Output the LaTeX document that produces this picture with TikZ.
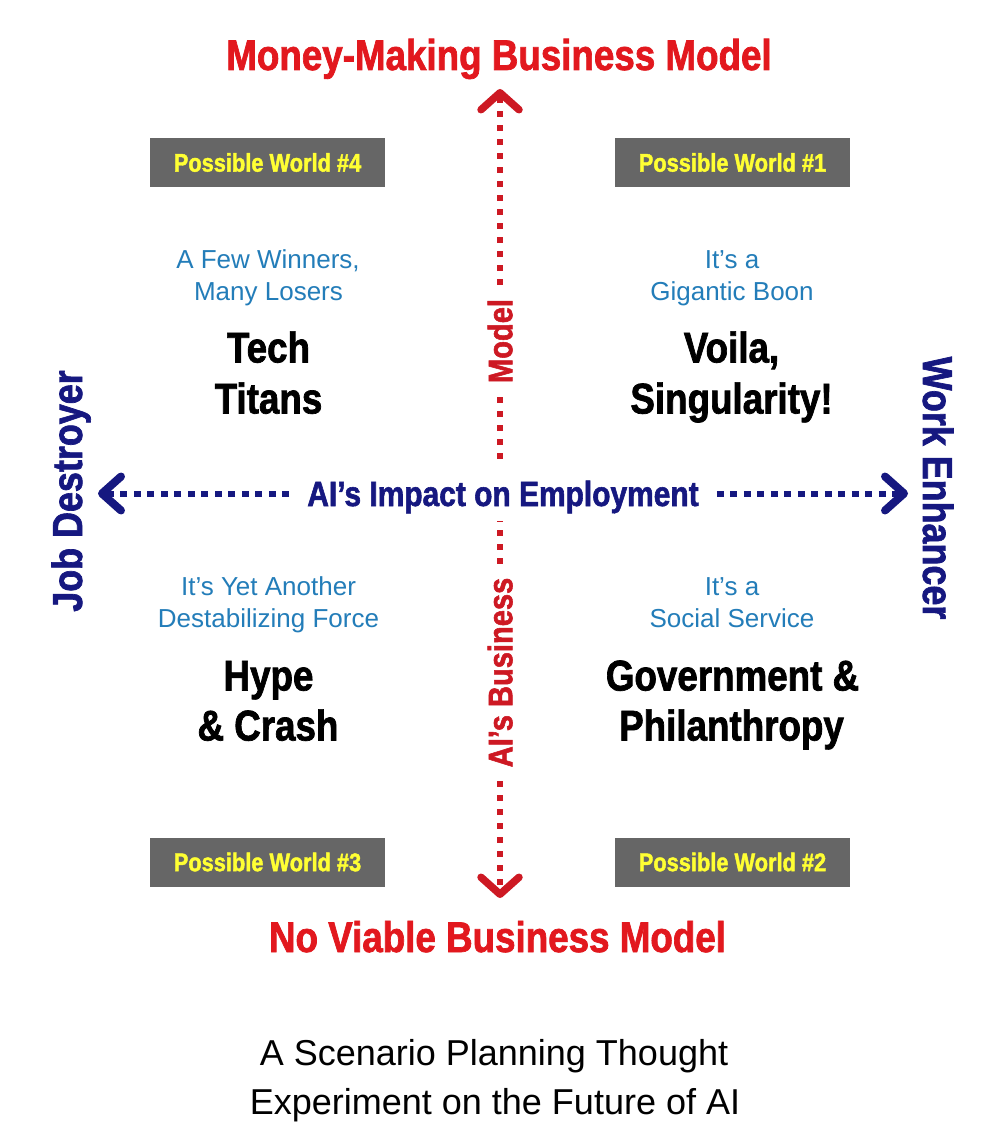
\documentclass[tikz,border=0pt]{standalone}
\usepackage{fontspec}
\setmainfont{Liberation Sans}
\newfontfamily\condfont{Liberation Sans}[FakeStretch=0.855, BoldFeatures={FakeBold=1.6}]
\usetikzlibrary{arrows.meta}
\definecolor{redT}{RGB}{226,24,30}
\definecolor{redD}{RGB}{205,25,35}
\definecolor{navy}{RGB}{22,24,128}
\definecolor{subblue}{RGB}{35,125,185}
\definecolor{boxgray}{RGB}{102,102,102}
\definecolor{boxyellow}{RGB}{255,255,51}
\tikzset{
  titletxt/.style={font=\condfont\bfseries\fontsize{43}{50}\selectfont, text=redT, anchor=base, inner sep=0pt},
  worldbox/.style={fill=boxgray, minimum width=235pt, minimum height=49pt, inner sep=0pt, text=boxyellow,
    font=\condfont\bfseries\fontsize{25.5}{30}\selectfont, text height=18.3pt, text depth=0pt},
  subtxt/.style={font=\fontsize{26}{32}\selectfont, text=subblue, anchor=base, inner sep=0pt},
  bigtxt/.style={font=\condfont\bfseries\fontsize{43}{51}\selectfont, text=black, anchor=base, inner sep=0pt},
  vlab/.style={font=\condfont\bfseries\fontsize{34}{40}\selectfont, text=redD, rotate=90,
    text height=24.5pt, text depth=0pt, inner sep=14pt},
  hlab/.style={font=\condfont\bfseries\fontsize{35}{40}\selectfont, text=navy,
    text height=25pt, text depth=0pt, inner xsep=18pt, inner ysep=15pt},
  sidelab/.style={font=\condfont\bfseries\fontsize{42}{48}\selectfont, text=navy, anchor=base, inner sep=0pt},
  captxt/.style={font=\fontsize{36}{46}\selectfont, text=black, anchor=base, inner sep=0pt},
  vdots/.style={draw=redD, line width=6pt, dash pattern=on 6pt off 8pt},
  hdots/.style={draw=navy, line width=6pt, dash pattern=on 7pt off 6.5pt},
  vtip/.style={-{Straight Barb[length=17pt, width=38pt, line width=7.5pt, round]}},
  htip/.style={-{Straight Barb[length=19pt, width=34pt, line width=8pt, round]}},
}
\begin{document}
\begin{tikzpicture}[x=1pt, y=-1pt]
\useasboundingbox[fill=white] (0,0) rectangle (1000,1145);

% titles
\node[titletxt] (top) at (499,70) {Money-Making Business Model};
\node[titletxt] (bottom) at (497.5,952) {No Viable Business Model};

% possible world boxes
\node[worldbox] (w4) at (267.5,162.5) {Possible World \#4};
\node[worldbox] (w1) at (732.5,162.5) {Possible World \#1};
\node[worldbox] (w3) at (267.5,862) {Possible World \#3};
\node[worldbox] (w2) at (732.5,862) {Possible World \#2};

% quadrant 4 (top left)
\node[subtxt] (q4a) at (268,268.3) {A Few Winners,};
\node[subtxt] (q4b) at (268.5,300.3) {Many Losers};
\node[bigtxt] (q4c) at (268.5,362.5) {Tech};
\node[bigtxt] (q4d) at (268.5,413.5) {Titans};

% quadrant 1 (top right)
\node[subtxt] (q1a) at (732,268.3) {It’s a};
\node[subtxt] (q1b) at (732,300.3) {Gigantic Boon};
\node[bigtxt] (q1c) at (731.5,362.5) {Voila,};
\node[bigtxt] (q1d) at (731.5,413.5) {Singularity!};

% quadrant 3 (bottom left)
\node[subtxt] (q3a) at (268.5,595.3) {It’s Yet Another};
\node[subtxt] (q3b) at (268.5,627.3) {Destabilizing Force};
\node[bigtxt] (q3c) at (268.5,690.5) {Hype};
\node[bigtxt] (q3d) at (268,740.5) {\& Crash};

% quadrant 2 (bottom right)
\node[subtxt] (q2a) at (732,595.3) {It’s a};
\node[subtxt] (q2b) at (732,627.3) {Social Service};
\node[bigtxt] (q2c) at (732.5,690.5) {Government \&};
\node[bigtxt] (q2d) at (731.5,740.5) {Philanthropy};

% side labels
\node[sidelab, rotate=90] (jobd) at (82,491) {Job Destroyer};
\node[sidelab, rotate=-90] (worke) at (923,488) {Work Enhancer};

% axis labels
\node[vlab] (model) at (500,341) {Model};
\node[vlab] (biz) at (500,672.5) {AI’s Business};
\node[hlab] (hl) at (503,493.5) {AI’s Impact on Employment};

% axis end points
\coordinate (ttip) at (500,89);
\coordinate (btip) at (500,898);
\coordinate (ltip) at (98,493.5);
\coordinate (rtip) at (908,493.5);

% axes
\draw[vdots, vtip] (model) -- (ttip);
\draw[vdots] (model) -- (model |- hl.north);
\draw[vdots] (biz) -- (biz |- hl.south);
\draw[vdots, vtip] (biz) -- (btip);
\draw[hdots, htip] (hl) -- (ltip);
\draw[hdots, htip] (hl) -- (rtip);

% caption
\node[captxt] (cap1) at (494,1065) {A Scenario Planning Thought};
\node[captxt] (cap2) at (495,1114) {Experiment on the Future of AI};
\end{tikzpicture}
\end{document}
